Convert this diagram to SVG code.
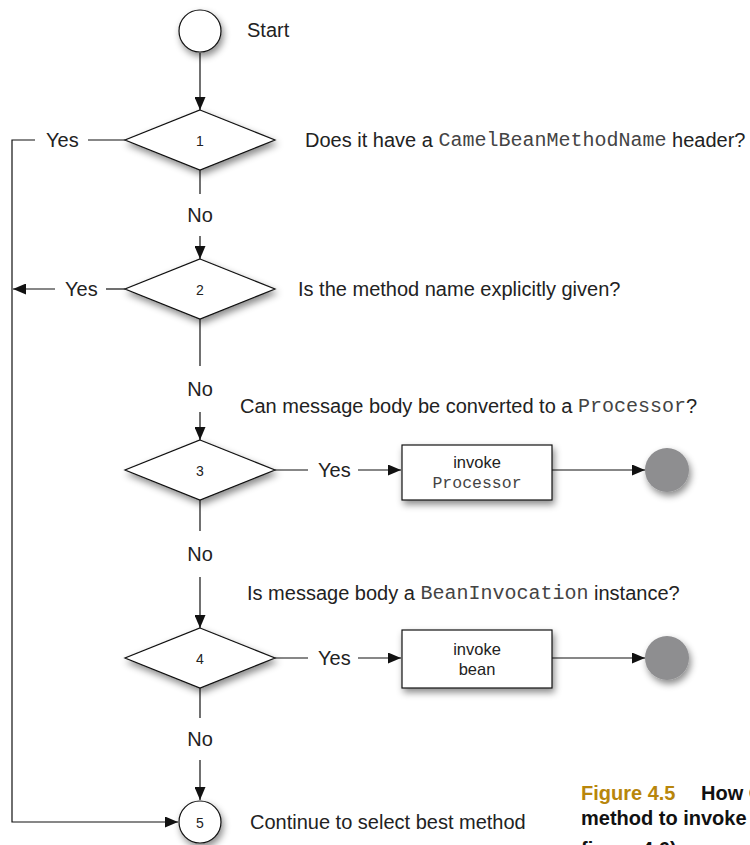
<svg xmlns="http://www.w3.org/2000/svg" width="750" height="845" viewBox="0 0 750 845">
<defs>
<filter id="sh" x="-30%" y="-30%" width="170%" height="180%">
<feDropShadow dx="2" dy="4" stdDeviation="3.5" flood-color="#000" flood-opacity="0.45"/>
</filter>
<marker id="ah" viewBox="0 0 13 11" refX="13" refY="5.5" markerWidth="13" markerHeight="11" markerUnits="userSpaceOnUse" orient="auto">
<path d="M0,0 L13,5.5 L0,11 Z" fill="#111"/>
</marker>
</defs>
<style>
.t{font-family:"Liberation Sans",Arial,sans-serif;font-size:20px;fill:#222;dominant-baseline:central}
.n{font-family:"Liberation Sans",Arial,sans-serif;font-size:14px;fill:#222;text-anchor:middle;dominant-baseline:central}
.b{font-family:"Liberation Sans",Arial,sans-serif;font-size:16.5px;fill:#222;text-anchor:middle;dominant-baseline:central}
.m{font-family:"Liberation Mono","Courier New",monospace;fill:#444}
.shape{fill:#fff;stroke:#111;stroke-width:1.2;filter:url(#sh)}
.end{fill:#8e8e90;filter:url(#sh)}
.ln{fill:none;stroke:#111;stroke-width:1.2}
.cap{font-family:"Liberation Sans",Arial,sans-serif;font-weight:bold;font-size:20px}
</style>
<rect width="750" height="845" fill="#fff"/>

<g id="connectors">
<line class="ln" x1="200" y1="53" x2="200" y2="110" marker-end="url(#ah)"/>
<line class="ln" x1="200" y1="170" x2="200" y2="194"/>
<line class="ln" x1="200" y1="236" x2="200" y2="259" marker-end="url(#ah)"/>
<line class="ln" x1="200" y1="319" x2="200" y2="366"/>
<line class="ln" x1="200" y1="412" x2="200" y2="440" marker-end="url(#ah)"/>
<line class="ln" x1="200" y1="500" x2="200" y2="531"/>
<line class="ln" x1="200" y1="577" x2="200" y2="628" marker-end="url(#ah)"/>
<line class="ln" x1="200" y1="688" x2="200" y2="718"/>
<line class="ln" x1="200" y1="760" x2="200" y2="800" marker-end="url(#ah)"/>
<line class="ln" x1="125" y1="140" x2="88" y2="140"/>
<polyline class="ln" points="35,140 12,140 12,822 178,822" marker-end="url(#ah)"/>
<line class="ln" x1="125" y1="289" x2="106" y2="289"/>
<line class="ln" x1="55" y1="289" x2="13" y2="289" marker-end="url(#ah)"/>
<line class="ln" x1="275" y1="470" x2="308" y2="470"/>
<line class="ln" x1="358" y1="470" x2="401" y2="470" marker-end="url(#ah)"/>
<line class="ln" x1="552" y1="470" x2="645" y2="470" marker-end="url(#ah)"/>
<line class="ln" x1="275" y1="658" x2="308" y2="658"/>
<line class="ln" x1="358" y1="658" x2="401" y2="658" marker-end="url(#ah)"/>
<line class="ln" x1="552" y1="658" x2="645" y2="658" marker-end="url(#ah)"/>
<text class="t" x="46" y="140">Yes</text>
<text class="t" x="65" y="289">Yes</text>
<text class="t" x="318" y="470">Yes</text>
<text class="t" x="318" y="658">Yes</text>
<text class="t" x="200" y="215" text-anchor="middle">No</text>
<text class="t" x="200" y="389" text-anchor="middle">No</text>
<text class="t" x="200" y="554" text-anchor="middle">No</text>
<text class="t" x="200" y="739" text-anchor="middle">No</text>
</g>

<g id="start">
<circle class="shape" cx="200" cy="31" r="21"/>
<text class="t" x="247" y="30">Start</text>
</g>

<g id="d1">
<polygon class="shape" points="200,110 275,140 200,170 125,140"/>
<text class="n" x="200" y="141">1</text>
<text class="t" x="305" y="140">Does it have a <tspan class="m">CamelBeanMethodName</tspan> header?</text>
</g>

<g id="d2">
<polygon class="shape" points="200,259 275,289 200,319 125,289"/>
<text class="n" x="200" y="290">2</text>
<text class="t" x="298" y="289">Is the method name explicitly given?</text>
</g>

<g id="d3">
<polygon class="shape" points="200,440 275,470 200,500 125,470"/>
<text class="n" x="200" y="471">3</text>
<text class="t" x="240" y="406">Can message body be converted to a <tspan class="m">Processor</tspan>?</text>
</g>

<g id="invokeProcessor">
<rect class="shape" x="402" y="445" width="150" height="55"/>
<text class="b" x="477" y="462">invoke</text>
<text class="b m" x="477" y="483">Processor</text>
</g>
<g id="end1"><circle class="end" cx="667" cy="470" r="22"/></g>

<g id="d4">
<polygon class="shape" points="200,628 275,658 200,688 125,658"/>
<text class="n" x="200" y="659">4</text>
<text class="t" x="247" y="593">Is message body a <tspan class="m">BeanInvocation</tspan> instance?</text>
</g>

<g id="invokeBean">
<rect class="shape" x="402" y="630" width="150" height="58"/>
<text class="b" x="477" y="649">invoke</text>
<text class="b" x="477" y="669">bean</text>
</g>
<g id="end2"><circle class="end" cx="667" cy="658" r="22"/></g>

<g id="n5">
<circle class="shape" cx="200" cy="822" r="21"/>
<text class="n" x="200" y="823">5</text>
<text class="t" x="250" y="822">Continue to select best method</text>
</g>

<g id="caption">
<text class="cap" x="581" y="800" fill="#b8860b">Figure 4.5</text>
<text class="cap" x="701" y="800" fill="#111">How C</text>
<text class="cap" x="581" y="825" fill="#111">method to invoke</text>
<text class="cap" x="581" y="856" fill="#111">figure 4.6)</text>
</g>
</svg>
